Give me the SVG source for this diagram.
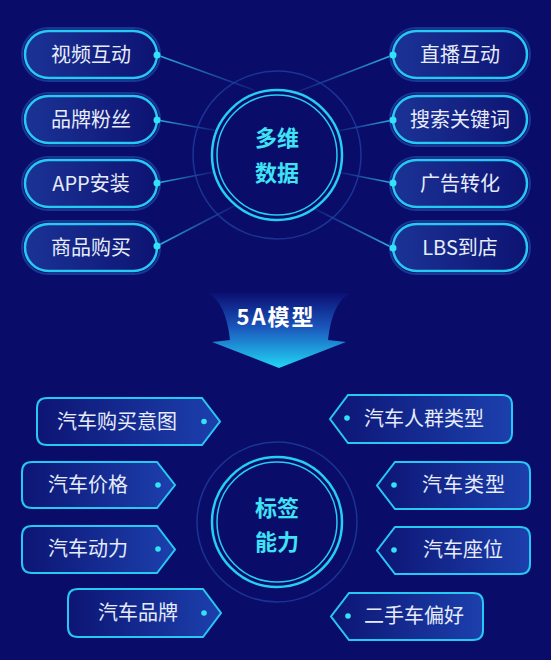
<svg xmlns="http://www.w3.org/2000/svg" width="551" height="660" viewBox="0 0 551 660">
<defs>
<linearGradient id="pillFill" x1="0" y1="0" x2="1" y2="0">
<stop offset="0" stop-color="#1b3396"/>
<stop offset="1" stop-color="#0d1372"/>
</linearGradient>
<linearGradient id="tagFill" x1="0" y1="0" x2="1" y2="0">
<stop offset="0" stop-color="#0d1574"/>
<stop offset="1" stop-color="#1c40ad"/>
</linearGradient>
<linearGradient id="lineL" x1="0" y1="0" x2="1" y2="0">
<stop offset="0" stop-color="#2fc6f0" stop-opacity="0.9"/>
<stop offset="1" stop-color="#2f80d8" stop-opacity="0.15"/>
</linearGradient>
<linearGradient id="lineR" x1="1" y1="0" x2="0" y2="0">
<stop offset="0" stop-color="#2fc6f0" stop-opacity="0.9"/>
<stop offset="1" stop-color="#2f80d8" stop-opacity="0.15"/>
</linearGradient>
<linearGradient id="arrowFill" x1="0" y1="0" x2="0" y2="1">
<stop offset="0" stop-color="#0b0f72"/>
<stop offset="0.45" stop-color="#1a55bb"/>
<stop offset="1" stop-color="#22d6f4"/>
</linearGradient>
</defs>
<style>
.pill{fill:url(#pillFill);stroke:#27c8f2;stroke-width:2.5}
.glow{fill:none;stroke:#1c4aa8;stroke-width:2;opacity:0.7}
.tag{fill:url(#tagFill);stroke:#27c8f2;stroke-width:2}
.dot{fill:#33e2f8}
.lbl{font-family:"Noto Sans CJK SC","Noto Sans",sans-serif;font-size:20px;fill:#e6ecfb;text-anchor:middle}
.ctr{font-family:"Noto Sans CJK SC","Noto Sans",sans-serif;font-size:22px;font-weight:bold;fill:#3ee4f5;text-anchor:middle}
.ring{fill:none;stroke:#24cff0}
.faint{fill:none;stroke:#1e3e9e;stroke-width:1.5;opacity:0.8}
</style>
<rect width="551" height="660" fill="#0a0c6a"/>

<g id="connectors">
<line x1="157" y1="55" x2="254" y2="90" stroke="url(#lineL)" stroke-width="1.6"/>
<line x1="157" y1="120" x2="216" y2="130.5" stroke="url(#lineL)" stroke-width="1.6"/>
<line x1="157" y1="183" x2="214" y2="172" stroke="url(#lineL)" stroke-width="1.6"/>
<line x1="157" y1="246" x2="235" y2="205.5" stroke="url(#lineL)" stroke-width="1.6"/>
<line x1="393" y1="55" x2="297" y2="92" stroke="url(#lineR)" stroke-width="1.6"/>
<line x1="393" y1="120" x2="338" y2="131" stroke="url(#lineR)" stroke-width="1.6"/>
<line x1="393" y1="183" x2="340" y2="172.5" stroke="url(#lineR)" stroke-width="1.6"/>
<line x1="393" y1="248" x2="314" y2="208.5" stroke="url(#lineR)" stroke-width="1.6"/>
</g>

<g id="hub-top">
<circle cx="277" cy="155" r="84" class="faint"/>
<circle cx="277" cy="155" r="65" class="ring" stroke-width="2.5"/>
<circle cx="277" cy="155" r="60" class="ring" stroke-width="1.5"/>
<text x="277" y="146" class="ctr">多维</text>
<text x="277" y="181" class="ctr">数据</text>
</g>

<g id="n-shipin">
<rect x="22" y="28" width="138" height="53" rx="26.5" class="glow"/>
<rect x="25" y="31" width="132" height="47" rx="23.5" class="pill"/>
<circle cx="157" cy="55" r="3.5" class="dot"/>
<text x="91" y="62" class="lbl">视频互动</text>
</g>
<g id="n-pinpai">
<rect x="22" y="93" width="138" height="53" rx="26.5" class="glow"/>
<rect x="25" y="96" width="132" height="47" rx="23.5" class="pill"/>
<circle cx="157" cy="120" r="3.5" class="dot"/>
<text x="91" y="127" class="lbl">品牌粉丝</text>
</g>
<g id="n-app">
<rect x="22" y="157" width="138" height="53" rx="26.5" class="glow"/>
<rect x="25" y="160" width="132" height="47" rx="23.5" class="pill"/>
<circle cx="157" cy="183" r="3.5" class="dot"/>
<text x="91" y="191" class="lbl">APP安装</text>
</g>
<g id="n-shangpin">
<rect x="22" y="221" width="138" height="53" rx="26.5" class="glow"/>
<rect x="25" y="224" width="132" height="47" rx="23.5" class="pill"/>
<circle cx="157" cy="246" r="3.5" class="dot"/>
<text x="91" y="255" class="lbl">商品购买</text>
</g>

<g id="n-zhibo">
<rect x="390" y="28" width="140" height="53" rx="26.5" class="glow"/>
<rect x="393" y="31" width="134" height="47" rx="23.5" class="pill"/>
<circle cx="393" cy="55" r="3.5" class="dot"/>
<text x="460" y="62" class="lbl">直播互动</text>
</g>
<g id="n-sousuo">
<rect x="390" y="93" width="140" height="53" rx="26.5" class="glow"/>
<rect x="393" y="96" width="134" height="47" rx="23.5" class="pill"/>
<circle cx="393" cy="120" r="3.5" class="dot"/>
<text x="460" y="127" class="lbl">搜索关键词</text>
</g>
<g id="n-guanggao">
<rect x="390" y="157" width="140" height="53" rx="26.5" class="glow"/>
<rect x="393" y="160" width="134" height="47" rx="23.5" class="pill"/>
<circle cx="393" cy="183" r="3.5" class="dot"/>
<text x="460" y="191" class="lbl">广告转化</text>
</g>
<g id="n-lbs">
<rect x="390" y="221" width="140" height="53" rx="26.5" class="glow"/>
<rect x="393" y="224" width="134" height="47" rx="23.5" class="pill"/>
<circle cx="393" cy="248" r="3.5" class="dot"/>
<text x="460" y="255" class="lbl">LBS到店</text>
</g>

<g id="arrow-5a">
<path d="M208,293 L350,293 Q332,303 328,340 L346,342 L279,368 L212,342 L230,340 Q226,303 208,293 Z" fill="url(#arrowFill)"/>
<text x="276" y="325" font-family="'Noto Sans CJK SC','Noto Sans',sans-serif" font-size="22" font-weight="bold" letter-spacing="2" fill="#ffffff" text-anchor="middle">5A模型</text>
</g>

<g id="hub-bottom">
<circle cx="277" cy="522" r="80" class="faint"/>
<circle cx="277" cy="522" r="65" class="ring" stroke-width="2.5"/>
<circle cx="277" cy="522" r="60" class="ring" stroke-width="1.5"/>
<text x="277" y="516" class="ctr">标签</text>
<text x="277" y="550" class="ctr">能力</text>
</g>

<g id="t-goumai">
<path d="M47,398 H202 L220,421.5 L202,445 H47 Q37,445 37,435 V408 Q37,398 47,398 Z" class="tag"/>
<circle cx="204" cy="421.5" r="2.8" class="dot"/>
<text x="117" y="429" class="lbl">汽车购买意图</text>
</g>
<g id="t-jiage">
<path d="M32,462 H157 L175,485 L157,508 H32 Q22,508 22,498 V472 Q22,462 32,462 Z" class="tag"/>
<circle cx="158" cy="485" r="2.8" class="dot"/>
<text x="88" y="492" class="lbl">汽车价格</text>
</g>
<g id="t-dongli">
<path d="M32,526 H157 L175,549.5 L157,573 H32 Q22,573 22,563 V536 Q22,526 32,526 Z" class="tag"/>
<circle cx="158" cy="549" r="2.8" class="dot"/>
<text x="88" y="556" class="lbl">汽车动力</text>
</g>
<g id="t-pinpai">
<path d="M78,589 H203 L221,613 L203,637 H78 Q68,637 68,627 V599 Q68,589 78,589 Z" class="tag"/>
<circle cx="204" cy="613" r="2.8" class="dot"/>
<text x="138" y="620" class="lbl">汽车品牌</text>
</g>

<g id="t-renqun">
<path d="M348,395 H502 Q512,395 512,405 V433 Q512,443 502,443 H348 L330,419 Z" class="tag"/>
<circle cx="347" cy="418" r="2.8" class="dot"/>
<text x="424" y="426" class="lbl">汽车人群类型</text>
</g>
<g id="t-leixing">
<path d="M395,462 H520 Q530,462 530,472 V499 Q530,509 520,509 H395 L377,485.5 Z" class="tag"/>
<circle cx="394" cy="485" r="2.8" class="dot"/>
<text x="464" y="492" class="lbl" letter-spacing="1">汽车类型</text>
</g>
<g id="t-zuowei">
<path d="M395,527 H520 Q530,527 530,537 V564 Q530,574 520,574 H395 L377,550.5 Z" class="tag"/>
<circle cx="394" cy="550" r="2.8" class="dot"/>
<text x="463" y="557" class="lbl">汽车座位</text>
</g>
<g id="t-ershou">
<path d="M349,593 H473 Q483,593 483,603 V630 Q483,640 473,640 H349 L331,616.5 Z" class="tag"/>
<circle cx="348" cy="616" r="2.8" class="dot"/>
<text x="414" y="623" class="lbl">二手车偏好</text>
</g>
</svg>
